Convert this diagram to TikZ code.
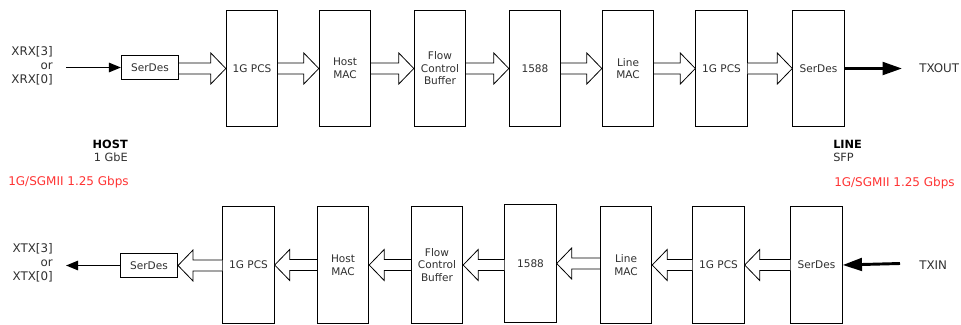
\documentclass[tikz,border=0pt]{standalone}
\usepackage{fontspec}
\setmainfont{DejaVu Sans}
\usetikzlibrary{arrows.meta,calc}
\definecolor{txt}{HTML}{303030}
\definecolor{redt}{HTML}{FF3333}
\newcommand\fatR[2]{\draw[fat] ($(#1.east |- #2.west)+(0,-5.5)$) -- ($(#2.west)+(-15,-5.5)$) -- ($(#2.west)+(-15,-15.5)$) -- (#2.west) -- ($(#2.west)+(-15,15.5)$) -- ($(#2.west)+(-15,5.5)$) -- ($(#1.east |- #2.west)+(0,5.5)$);}
\newcommand\fatL[2]{\draw[fat] ($(#1.west |- #2.east)+(0,-5.5)$) -- ($(#2.east)+(15,-5.5)$) -- ($(#2.east)+(15,-15.5)$) -- (#2.east) -- ($(#2.east)+(15,15.5)$) -- ($(#2.east)+(15,5.5)$) -- ($(#1.west |- #2.east)+(0,5.5)$);}
\begin{document}
\begin{tikzpicture}[x=0.75pt,y=-0.75pt,
  blk/.style={draw, line width=0.8pt, fill=white, minimum width=38.5pt, minimum height=87.5pt, inner sep=1pt, align=center, font=\fontsize{7.9}{9.4}\selectfont, text=txt},
  sbox/.style={blk, minimum width=42.75pt, minimum height=18pt},
  fat/.style={draw, line width=0.6pt, fill=white, line join=miter},
  lbl/.style={font=\fontsize{8.5}{10.5}\selectfont, text=txt, inner sep=0pt},
  biglbl/.style={lbl, font=\fontsize{8.9}{10.5}\selectfont},
  boldlbl/.style={lbl, font=\fontsize{8.5}{10.5}\selectfont\bfseries, text=black},
  redlbl/.style={font=\fontsize{9}{11}\selectfont, text=redt, inner sep=0pt},
  thinarr/.style={line width=1.3pt, -{Triangle[length=9pt,width=7pt]}},
  thickarr/.style={line width=2.2pt, -{Triangle[length=14.5pt,width=9.5pt]}}]
\useasboundingbox (0,0) rectangle (961,325);
% top row
\node[sbox] (sd1) at (150,67.5) {SerDes};
\node[blk] (p1) at (252,68.5) {1G PCS};
\node[blk] (hm1) at (345,68.5) {Host\\MAC};
\node[blk] (fc1) at (440,68.5) {Flow\\Control\\Buffer};
\node[blk] (t1) at (535,68.5) {1588};
\node[blk] (lm1) at (628,68.5) {Line\\MAC};
\node[blk] (p2) at (721.5,68.5) {1G PCS};
\node[blk] (sd2) at (818.5,68.5) {SerDes};
\fatR{sd1}{p1}
\fatR{p1}{hm1}
\fatR{hm1}{fc1}
\fatR{fc1}{t1}
\fatR{t1}{lm1}
\fatR{lm1}{p2}
\fatR{p2}{sd2}
\node[biglbl, anchor=east, align=right] (xrx) at (53,66) {XRX[3]\\or\\XRX[0]};
\coordinate (xin) at (66,67.5);
\draw[thinarr] (xin) -- (sd1.west);
\coordinate (xout) at (902,68.5);
\draw[thickarr] (sd2.east) -- (xout);
\node[biglbl, anchor=west] (txout) at (919,68) {TXOUT};
% middle labels
\node[boldlbl, anchor=east] (host) at (128,144) {HOST};
\node[lbl, anchor=east] (gbe) at (128,157) {1 GbE};
\node[redlbl, anchor=east] (rl) at (129,182) {1G/SGMII 1.25 Gbps};
\node[boldlbl, anchor=west] (line) at (833,144) {LINE};
\node[lbl, anchor=west] (sfp) at (833,157) {SFP};
\node[redlbl, anchor=west] (rr) at (834,183) {1G/SGMII 1.25 Gbps};
% bottom row
\node[sbox] (sd3) at (149,265.5) {SerDes};
\node[blk] (p3) at (248.5,265) {1G PCS};
\node[blk] (hm2) at (343,265) {Host\\MAC};
\node[blk] (fc2) at (437,265) {Flow\\Control\\Buffer};
\node[blk, minimum height=88.5pt] (t2) at (530.5,263.5) {1588};
\node[blk] (lm2) at (626,265) {Line\\MAC};
\node[blk] (p4) at (718.5,265) {1G PCS};
\node[blk] (sd4) at (816.5,265) {SerDes};
\fatL{p3}{sd3}
\fatL{hm2}{p3}
\fatL{fc2}{hm2}
\fatL{t2}{fc2}
\fatL{lm2}{t2}
\fatL{p4}{lm2}
\fatL{sd4}{p4}
\node[biglbl, anchor=east, align=right] (xtx) at (53,263) {XTX[3]\\or\\XTX[0]};
\coordinate (xtxo) at (66,265.5);
\draw[thinarr] (sd3.west) -- (xtxo);
\coordinate (txi) at (900,263.5);
\draw[thickarr] (txi) -- (sd4.east);
\node[biglbl, anchor=west] (txin) at (919,265) {TXIN};
\end{tikzpicture}
\end{document}
